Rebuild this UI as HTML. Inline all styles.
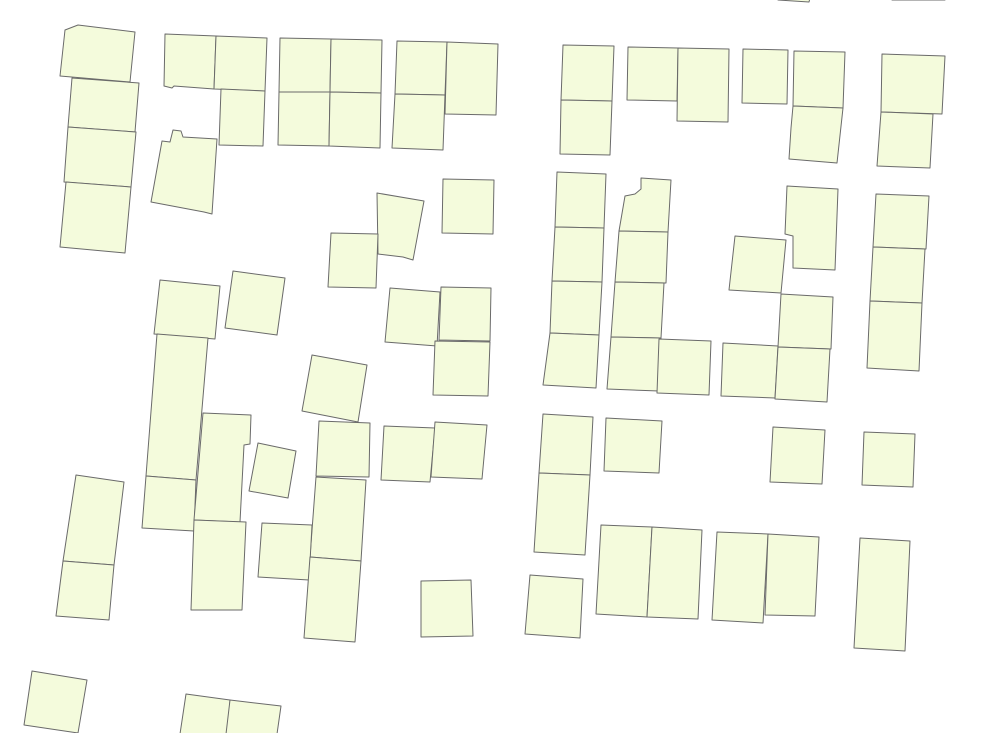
<!DOCTYPE html>
<html>
<head>
<meta charset="utf-8">
<style>
html,body{margin:0;padding:0;background:#fff;}
svg{display:block;}
polygon{fill:#f4fbdc;stroke:#6a6a6a;stroke-width:1;stroke-linejoin:round;}
</style>
</head>
<body>
<svg id="map" width="1005" height="733" viewBox="0 0 1005 733" xmlns="http://www.w3.org/2000/svg"></svg>
<script>
// Building footprint outlines (map coordinates in px)
const buildings = [
[[778,-2],[810,-2],[809,2],[778,0]],
[[892,-2],[945,-2],[945,0],[892,0]],
[[65,30],[78,25],[135,32],[130,82],[60,76]],
[[72,78],[139,83],[135,132],[68,127]],
[[68,127],[136,132],[131,187],[64,182]],
[[66,182],[131,187],[125,253],[60,247]],
[[165,34],[216,36],[214,89],[174,86],[172,88],[164,86]],
[[216,36],[267,38],[265,91],[214,89]],
[[221,89],[265,91],[263,146],[219,145]],
[[173,130],[181,131],[183,137],[217,139],[212,214],[204,212],[151,202],[162,141],[170,142]],
[[280,38],[331,39],[330,92],[279,92]],
[[331,39],[382,40],[381,93],[330,92]],
[[279,92],[330,92],[329,146],[278,145]],
[[330,92],[381,93],[380,148],[329,146]],
[[397,41],[447,42],[445,95],[395,94]],
[[447,42],[498,44],[496,115],[445,114]],
[[395,94],[445,95],[443,150],[392,148]],
[[377,193],[424,201],[413,260],[403,257],[378,254]],
[[443,179],[494,180],[493,234],[442,233]],
[[331,233],[378,234],[376,288],[328,287]],
[[563,45],[614,46],[612,101],[561,100]],
[[561,100],[612,101],[610,155],[560,154]],
[[628,47],[678,48],[677,101],[627,100]],
[[678,48],[729,49],[728,122],[677,121]],
[[743,49],[788,50],[787,104],[742,103]],
[[794,51],[845,52],[843,108],[793,106]],
[[793,106],[843,108],[837,163],[789,159],[791,128]],
[[882,54],[945,56],[942,114],[881,112]],
[[881,112],[933,114],[930,168],[877,166]],
[[557,172],[606,174],[604,228],[555,227]],
[[555,227],[604,228],[602,282],[552,281]],
[[552,281],[602,282],[599,335],[550,333]],
[[550,333],[599,335],[596,388],[543,385]],
[[625,196],[635,194],[641,189],[641,178],[671,180],[668,232],[619,231]],
[[619,231],[668,232],[666,283],[615,282]],
[[615,282],[664,283],[661,338],[611,337]],
[[611,337],[661,338],[659,391],[607,389]],
[[659,339],[711,341],[709,395],[657,393]],
[[787,186],[838,189],[835,270],[793,268],[793,236],[785,234]],
[[735,236],[786,240],[781,293],[729,290]],
[[781,294],[833,297],[831,349],[778,347]],
[[723,343],[778,346],[775,398],[721,396]],
[[778,347],[830,349],[827,402],[775,399]],
[[876,194],[929,196],[926,249],[873,247]],
[[873,247],[925,249],[922,303],[870,301]],
[[870,301],[922,303],[919,371],[867,368]],
[[160,280],[220,286],[215,339],[154,334]],
[[233,271],[285,278],[277,335],[225,328]],
[[390,288],[440,292],[437,346],[385,342]],
[[441,287],[491,288],[490,341],[439,340]],
[[435,341],[490,342],[488,396],[433,395]],
[[312,355],[367,365],[358,422],[302,411]],
[[157,334],[208,338],[196,480],[146,476]],
[[146,476],[196,480],[194,531],[142,528]],
[[203,413],[251,415],[250,444],[244,445],[240,522],[194,520]],
[[258,443],[296,451],[288,498],[249,491]],
[[319,421],[370,423],[369,477],[316,476]],
[[384,426],[435,428],[430,482],[381,480]],
[[435,422],[487,425],[482,479],[431,477]],
[[316,477],[366,480],[361,561],[310,557]],
[[262,523],[312,525],[309,580],[258,577]],
[[310,557],[361,561],[355,642],[304,638]],
[[194,520],[246,522],[242,610],[191,610]],
[[76,475],[124,482],[114,565],[63,561]],
[[63,561],[114,565],[109,620],[56,616]],
[[32,671],[87,680],[78,733],[24,725]],
[[186,694],[230,700],[228,734],[180,734]],
[[230,700],[281,706],[277,734],[226,734]],
[[421,581],[471,580],[473,636],[421,637]],
[[543,414],[593,417],[590,475],[539,473]],
[[539,473],[590,475],[585,555],[534,552]],
[[606,418],[662,421],[659,473],[604,471]],
[[773,427],[825,430],[822,484],[770,482]],
[[864,432],[915,434],[913,487],[862,485]],
[[601,525],[652,527],[647,617],[596,614]],
[[652,527],[702,530],[698,619],[647,617]],
[[717,532],[768,534],[763,623],[712,620]],
[[768,534],[819,537],[815,616],[765,615]],
[[860,538],[910,541],[905,651],[854,648]],
[[530,575],[583,579],[580,638],[525,634]]
];
const svg = document.getElementById('map');
const NS = 'http://www.w3.org/2000/svg';
buildings.forEach((pts, i) => {
  const p = document.createElementNS(NS, 'polygon');
  p.setAttribute('points', pts.map(q => q[0] + ',' + q[1]).join(' '));
  
  
  svg.appendChild(p);
});
</script>
</body>
</html>
